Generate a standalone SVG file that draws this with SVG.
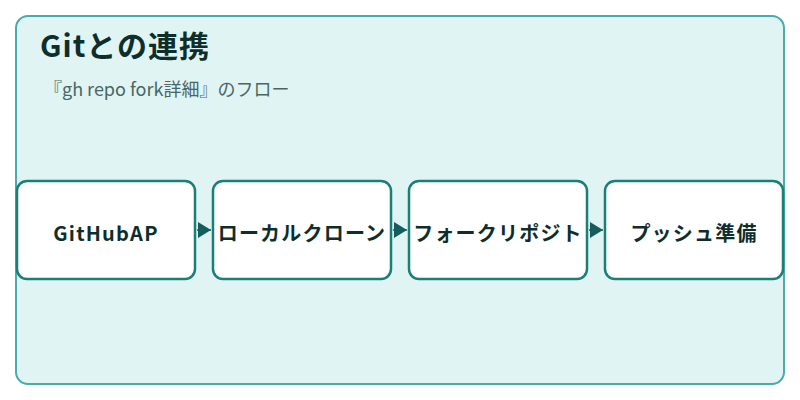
<svg xmlns="http://www.w3.org/2000/svg" width="800" height="400" viewBox="0 0 800 400">
<style>
.frame{fill:#e0f4f3;stroke:#4aabab;stroke-width:2}
.title{font-family:"Noto Sans CJK JP","Noto Sans",sans-serif;font-size:30px;font-weight:bold;fill:#0d2e2b;letter-spacing:1px}
.sub{font-family:"Noto Sans CJK JP","Noto Sans",sans-serif;font-size:18px;fill:#4a6664}
.box{fill:#ffffff;stroke:#1a7f7a;stroke-width:2.5}
.lbl{font-family:"Noto Sans CJK JP","Noto Sans",sans-serif;font-size:20px;font-weight:bold;fill:#0d2e2b;letter-spacing:1.2px;text-anchor:middle;dominant-baseline:central}
.edge{stroke:#135e5a;stroke-width:1.5;fill:none}
</style>
<defs>
<marker id="ah" markerWidth="13" markerHeight="16" refX="13" refY="8" orient="auto" markerUnits="userSpaceOnUse">
<path d="M0,0 L13,8 L0,16 Z" fill="#135e5a"/>
</marker>
</defs>
<rect class="frame" x="16" y="16" width="768" height="368" rx="12"/>
<text class="title" x="40" y="57">Gitとの連携</text>
<text class="sub" x="44" y="96">『gh repo fork詳細』のフロー</text>
<g id="connectors">
<line class="edge" x1="197" y1="230" x2="211" y2="230" marker-end="url(#ah)"/>
<line class="edge" x1="393" y1="230" x2="407" y2="230" marker-end="url(#ah)"/>
<line class="edge" x1="589" y1="230" x2="603" y2="230" marker-end="url(#ah)"/>
</g>
<g id="node1">
<rect class="box" x="17" y="181" width="178" height="98" rx="10"/>
<text class="lbl" x="106" y="232">GitHubAP</text>
</g>
<g id="node2">
<rect class="box" x="213" y="181" width="178" height="98" rx="10"/>
<text class="lbl" x="302" y="232">ローカルクローン</text>
</g>
<g id="node3">
<rect class="box" x="409" y="181" width="178" height="98" rx="10"/>
<text class="lbl" x="498" y="232">フォークリポジト</text>
</g>
<g id="node4">
<rect class="box" x="605" y="181" width="178" height="98" rx="10"/>
<text class="lbl" x="694" y="232">プッシュ準備</text>
</g>
</svg>
